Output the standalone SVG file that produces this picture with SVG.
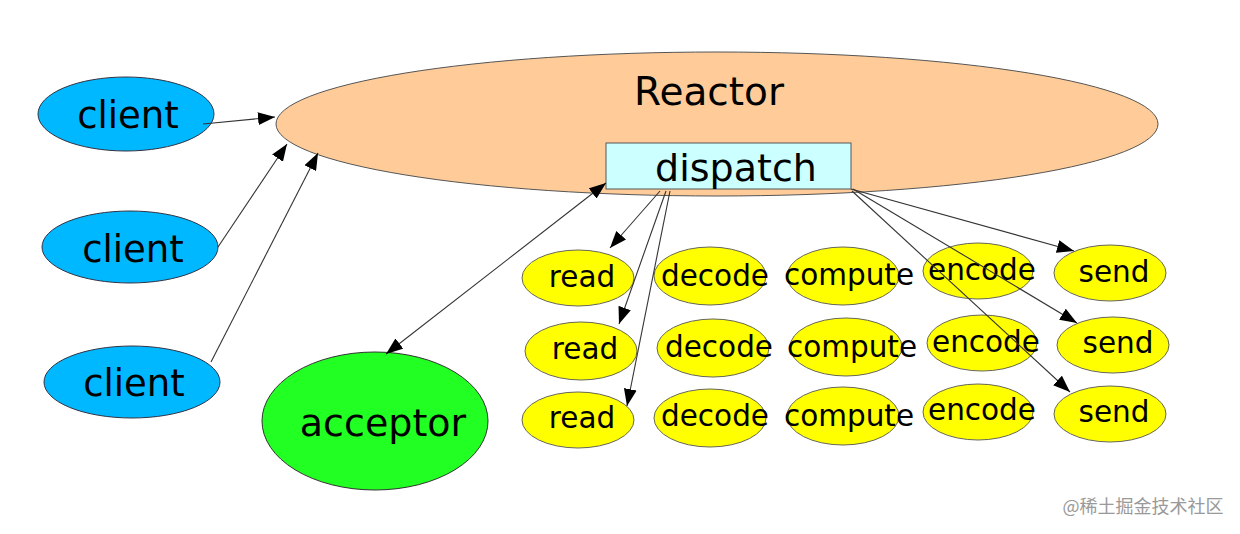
<svg xmlns="http://www.w3.org/2000/svg" width="1240" height="534" viewBox="0 0 1240 534">
<style>
text{font-family:"DejaVu Sans","Liberation Sans",sans-serif;fill:#000;text-anchor:middle}
.client ellipse{fill:#00b8ff;stroke:#334;stroke-width:1}
.task ellipse{fill:#ffff00;stroke:#665;stroke-width:1}
.task text{font-size:29.5px}
.client text{font-size:37px}
.conn line{stroke:#333;stroke-width:1.1;fill:none}
</style>
<defs>
<marker id="ah" markerUnits="userSpaceOnUse" markerWidth="18" markerHeight="13" refX="17" refY="6.5" orient="auto-start-reverse" viewBox="0 0 18 13">
<path d="M0,0 L17,6.5 L0,13 z" fill="#000"/>
</marker>
</defs>
<rect width="1240" height="534" fill="#fff"/>
<g id="client1" class="client"><ellipse cx="126" cy="114" rx="88" ry="37"/><text x="128" y="128">client</text></g>
<g id="client2" class="client"><ellipse cx="130" cy="247" rx="88" ry="36"/><text x="133" y="262">client</text></g>
<g id="client3" class="client"><ellipse cx="132" cy="382" rx="88" ry="36"/><text x="134" y="396">client</text></g>
<g id="reactor"><ellipse cx="717" cy="124" rx="441" ry="72" fill="#ffcc99" stroke="#555" stroke-width="1"/><text x="709" y="105" font-size="39">Reactor</text></g>
<g id="dispatch"><rect x="606" y="143" width="245" height="46" fill="#ccffff" stroke="#555" stroke-width="1"/><text x="736" y="181" font-size="38">dispatch</text></g>
<g id="acceptor"><ellipse cx="375" cy="421" rx="113" ry="69" fill="#22ff22" stroke="#333" stroke-width="1"/><text x="383" y="436" font-size="38">acceptor</text></g>
<g id="read1" class="task"><ellipse cx="578" cy="278" rx="56" ry="28"/><text x="582" y="287">read</text></g>
<g id="decode1" class="task"><ellipse cx="710" cy="276" rx="56" ry="29"/><text x="715" y="286">decode</text></g>
<g id="compute1" class="task"><ellipse cx="843" cy="276" rx="56" ry="29"/><text x="849" y="285">compute</text></g>
<g id="encode1" class="task"><ellipse cx="978" cy="271" rx="55" ry="28"/><text x="982" y="280">encode</text></g>
<g id="send1" class="task"><ellipse cx="1110" cy="273" rx="56" ry="28"/><text x="1114" y="282">send</text></g>
<g id="read2" class="task"><ellipse cx="581" cy="351" rx="56" ry="29"/><text x="585" y="359">read</text></g>
<g id="decode2" class="task"><ellipse cx="713" cy="348" rx="56" ry="29"/><text x="719" y="357">decode</text></g>
<g id="compute2" class="task"><ellipse cx="846" cy="347" rx="56" ry="29"/><text x="852" y="357">compute</text></g>
<g id="encode2" class="task"><ellipse cx="982" cy="343" rx="55" ry="28"/><text x="986" y="352">encode</text></g>
<g id="send2" class="task"><ellipse cx="1113" cy="345" rx="56" ry="28"/><text x="1118" y="353">send</text></g>
<g id="read3" class="task"><ellipse cx="578" cy="420" rx="56" ry="28"/><text x="582" y="428">read</text></g>
<g id="decode3" class="task"><ellipse cx="710" cy="418" rx="56" ry="29"/><text x="715" y="426">decode</text></g>
<g id="compute3" class="task"><ellipse cx="843" cy="416" rx="56" ry="29"/><text x="849" y="426">compute</text></g>
<g id="encode3" class="task"><ellipse cx="978" cy="412" rx="55" ry="28"/><text x="982" y="420">encode</text></g>
<g id="send3" class="task"><ellipse cx="1110" cy="414" rx="56" ry="28"/><text x="1114" y="422">send</text></g>
<g id="connectors" class="conn">
<line x1="203" y1="124" x2="275" y2="117" marker-end="url(#ah)"/>
<line x1="218" y1="247" x2="287" y2="144" marker-end="url(#ah)"/>
<line x1="211" y1="362" x2="318" y2="153" marker-end="url(#ah)"/>
<line x1="386" y1="354" x2="606" y2="183" marker-start="url(#ah)" marker-end="url(#ah)"/>
<line x1="660" y1="191" x2="610" y2="248" marker-end="url(#ah)"/>
<line x1="666" y1="191" x2="619" y2="324" marker-end="url(#ah)"/>
<line x1="670" y1="191" x2="627" y2="406" marker-end="url(#ah)"/>
<line x1="851" y1="189" x2="1074" y2="251" marker-end="url(#ah)"/>
<line x1="853" y1="189" x2="1077" y2="323" marker-end="url(#ah)"/>
<line x1="852" y1="191" x2="1070" y2="392" marker-end="url(#ah)"/>
</g>
<text x="1143" y="513" font-size="18" style="fill:#999;font-family:'Noto Sans CJK SC','Noto Sans',sans-serif">@稀土掘金技术社区</text>
</svg>
